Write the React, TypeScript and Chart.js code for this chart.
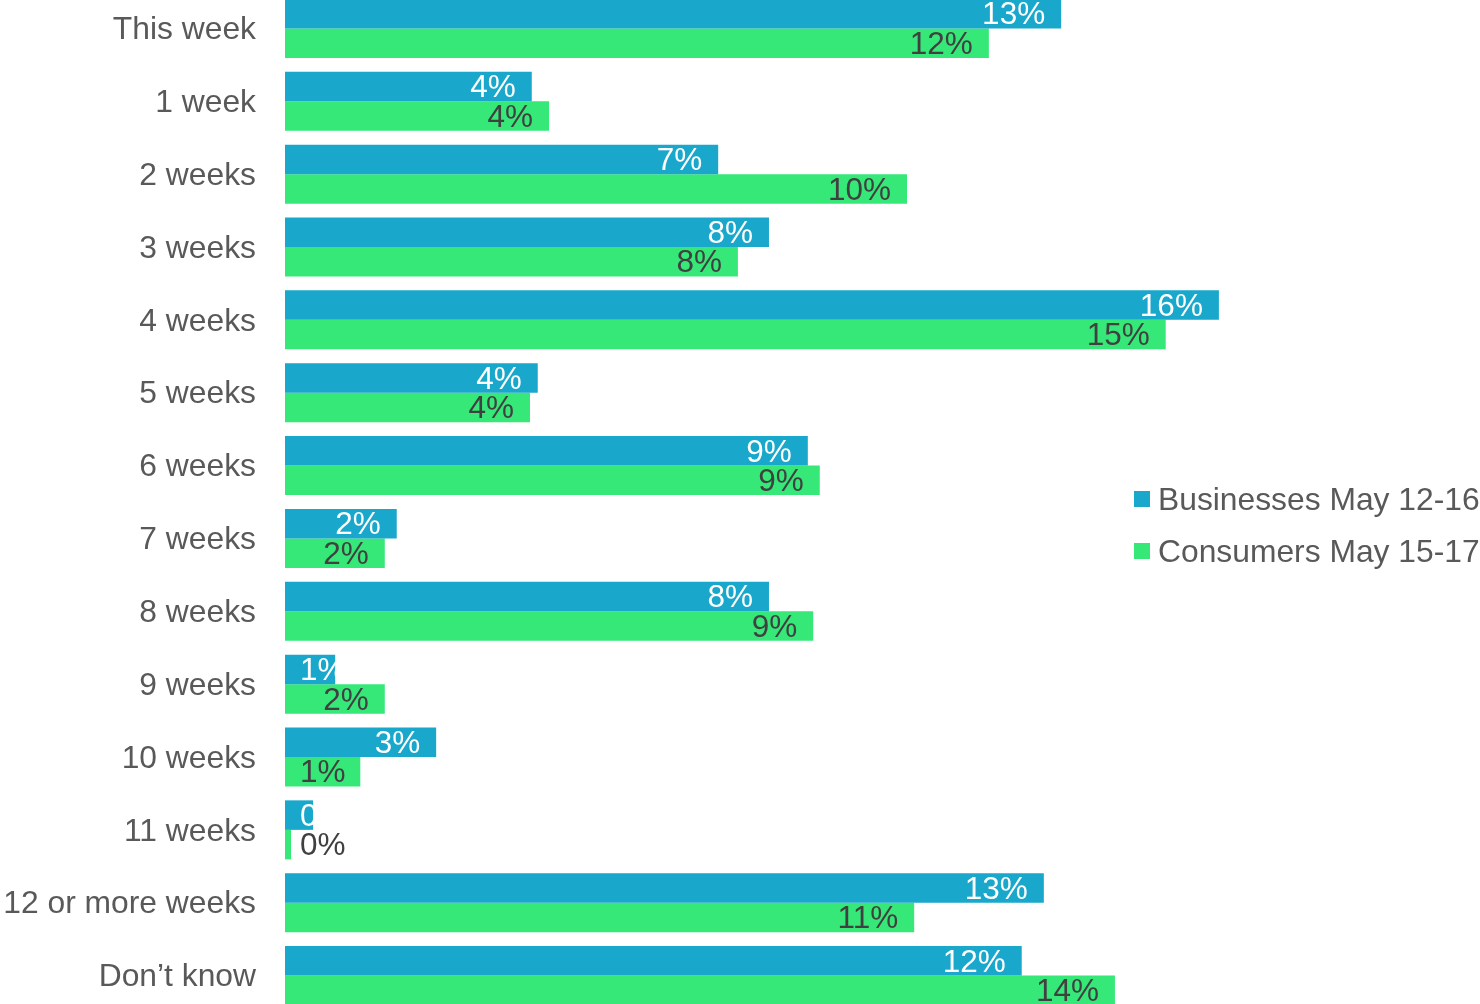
import React, { useEffect, useRef } from "react";
import { Chart, registerables } from "chart.js";

Chart.register(...registerables);

const categories = [
  "This week", "1 week", "2 weeks", "3 weeks", "4 weeks", "5 weeks", "6 weeks",
  "7 weeks", "8 weeks", "9 weeks", "10 weeks", "11 weeks", "12 or more weeks", "Don\u2019t know",
];
const businesses = [12.99, 4.13, 7.25, 8.1, 15.63, 4.23, 8.75, 1.87, 8.1, 0.84, 2.53, 0.47, 12.7, 12.33];
const consumers = [11.78, 4.42, 10.41, 7.58, 14.74, 4.1, 8.95, 1.67, 8.84, 1.67, 1.26, 0.1, 10.53, 13.89];
const seriesNames = ["Businesses May 12-16", "Consumers May 15-17"];
const seriesColors = ["#19A7CB", "#35E878"];
const labelColors = ["#FFFFFF", "#404040"];

const FONT = "'Liberation Sans', Arial, sans-serif";

const labelPlugin = {
  id: "barLabels",
  afterDatasetsDraw(chart: any) {
    const ctx = chart.ctx;
    ctx.save();
    ctx.font = `31.5px ${FONT}`;
    ctx.textBaseline = "middle";
    chart.data.datasets.forEach((ds: any, di: number) => {
      const meta = chart.getDatasetMeta(di);
      meta.data.forEach((bar: any, i: number) => {
        const v = ds.data[i];
        const text = Math.round(v) + "%";
        const w = ctx.measureText(text).width;
        let left = bar.x - 16 - w;
        if (left < bar.base + 15) left = bar.base + 15;
        ctx.fillStyle = labelColors[di];
        ctx.textAlign = "left";
        ctx.fillText(text, left, bar.y + 2);
      });
    });
    ctx.restore();
  },
};

const legendPlugin = {
  id: "customLegend",
  afterDraw(chart: any) {
    const ctx = chart.ctx;
    ctx.save();
    ctx.font = `31.8px ${FONT}`;
    ctx.textBaseline = "middle";
    ctx.textAlign = "left";
    const ys = [507, 559];
    seriesNames.forEach((name, i) => {
      ctx.fillStyle = seriesColors[i];
      ctx.fillRect(1134, ys[i] - 8, 16, 16);
      ctx.fillStyle = "#595959";
      ctx.fillText(name, 1158, ys[i] + 2);
    });
    ctx.restore();
  },
};

export default function App() {
  const ref = useRef<HTMLCanvasElement>(null);
  useEffect(() => {
    if (!ref.current) return;
    const chart = new Chart(ref.current, {
      type: "bar",
      data: {
        labels: categories,
        datasets: [
          { label: seriesNames[0], data: businesses, backgroundColor: seriesColors[0], borderWidth: 0 },
          { label: seriesNames[1], data: consumers, backgroundColor: seriesColors[1], borderWidth: 0 },
        ],
      },
      options: {
        indexAxis: "y",
        animation: false,
        responsive: false,
        maintainAspectRatio: false,
        layout: { padding: 0 },
        datasets: { bar: { categoryPercentage: 0.81, barPercentage: 1 } },
        plugins: { legend: { display: false }, tooltip: { enabled: false } },
        scales: {
          x: { display: false, min: 0, max: 20 },
          y: {
            grid: { display: false, drawTicks: false },
            border: { display: false },
            afterFit(scale: any) {
              scale.width = 285;
              scale.paddingTop = 0;
              scale.paddingBottom = 0;
            },
            ticks: { padding: 29, labelOffset: 2, color: "#595959", font: { family: FONT, size: 31.8 } },
          },
        },
      } as any,
      plugins: [labelPlugin, legendPlugin],
    });
    return () => chart.destroy();
  }, []);
  return (
    <div style={{ position: "fixed", left: 0, top: -8, width: 1480, height: 1020 }}>
      <canvas ref={ref} width={1480} height={1020} style={{ display: "block" }} />
    </div>
  );
}
